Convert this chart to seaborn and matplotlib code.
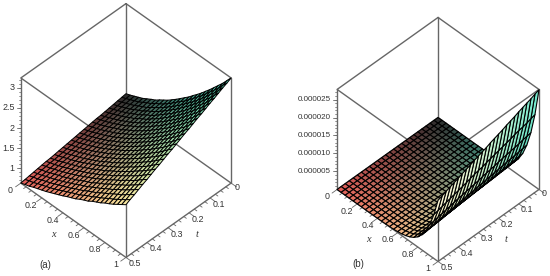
import numpy as np
import matplotlib
matplotlib.use('Agg')
import matplotlib.pyplot as plt
import seaborn as sns

x_vals = [0, .04, .08, .12, .16, .2, .24, .28, .32, .36, .4, .44, .48, .52, .56, .6, .64, .68, .72, .76, .8, .84, .88, .92, .96, 1]
t_vals = [0, .02, .04, .06, .08, .1, .12, .14, .16, .18, .2, .22, .24, .26, .28, .3, .32, .34, .36, .38, .4, .42, .44, .46, .48, .5]

# height of surface (a) above the box floor, one row per t
za_height = [
    [.48,.53,.59,.65,.71,.79,.87,.94,1.04,1.13,1.22,1.33,1.44,1.56,1.68,1.80,1.94,2.07,2.21,2.36,2.51,2.67,2.83,2.99,3.17,3.35],
    [.46,.51,.57,.63,.69,.77,.85,.92,1.02,1.10,1.19,1.30,1.41,1.53,1.65,1.76,1.90,2.03,2.17,2.31,2.46,2.62,2.77,2.93,3.11,3.28],
    [.44,.49,.55,.61,.67,.75,.82,.89,.99,1.08,1.17,1.27,1.38,1.49,1.61,1.73,1.86,1.99,2.12,2.26,2.41,2.56,2.72,2.87,3.04,3.22],
    [.42,.47,.53,.59,.65,.73,.80,.87,.97,1.05,1.14,1.24,1.35,1.46,1.58,1.69,1.82,1.95,2.08,2.22,2.36,2.51,2.66,2.81,2.98,3.15],
    [.40,.45,.51,.57,.63,.70,.78,.85,.94,1.03,1.11,1.21,1.32,1.43,1.54,1.65,1.78,1.90,2.03,2.17,2.31,2.46,2.60,2.75,2.92,3.08],
    [.38,.43,.49,.55,.61,.68,.76,.82,.92,1.00,1.08,1.19,1.29,1.39,1.51,1.62,1.74,1.86,1.99,2.12,2.26,2.40,2.55,2.69,2.85,3.02],
    [.36,.41,.47,.53,.59,.66,.73,.80,.89,.97,1.06,1.16,1.26,1.36,1.47,1.58,1.70,1.82,1.94,2.07,2.21,2.35,2.49,2.63,2.79,2.95],
    [.35,.40,.45,.51,.57,.64,.71,.78,.87,.95,1.03,1.13,1.22,1.33,1.44,1.54,1.66,1.78,1.90,2.03,2.16,2.29,2.43,2.57,2.73,2.88],
    [.33,.38,.43,.49,.55,.62,.69,.75,.84,.92,1.00,1.10,1.19,1.29,1.40,1.51,1.62,1.74,1.85,1.98,2.11,2.24,2.38,2.51,2.66,2.82],
    [.31,.36,.41,.47,.53,.60,.66,.73,.82,.90,.98,1.07,1.16,1.26,1.37,1.47,1.58,1.70,1.81,1.93,2.06,2.19,2.32,2.45,2.60,2.75],
    [.29,.34,.39,.45,.51,.57,.64,.71,.79,.87,.95,1.04,1.13,1.23,1.33,1.43,1.54,1.65,1.77,1.88,2.01,2.13,2.26,2.39,2.54,2.68],
    [.27,.32,.37,.43,.49,.55,.62,.68,.77,.84,.92,1.01,1.10,1.19,1.30,1.40,1.50,1.61,1.72,1.84,1.96,2.08,2.21,2.33,2.47,2.62],
    [.25,.30,.35,.41,.47,.53,.60,.66,.74,.82,.89,.98,1.07,1.16,1.26,1.36,1.46,1.57,1.68,1.79,1.91,2.03,2.15,2.27,2.41,2.55],
    [.23,.28,.33,.39,.44,.51,.57,.64,.72,.79,.87,.96,1.04,1.13,1.23,1.32,1.42,1.53,1.63,1.74,1.86,1.97,2.09,2.22,2.35,2.48],
    [.21,.26,.31,.37,.42,.49,.55,.62,.69,.77,.84,.93,1.01,1.10,1.19,1.28,1.38,1.49,1.59,1.69,1.81,1.92,2.03,2.16,2.29,2.41],
    [.19,.24,.29,.35,.40,.47,.53,.59,.67,.74,.81,.90,.98,1.06,1.16,1.25,1.34,1.45,1.54,1.65,1.76,1.87,1.98,2.10,2.22,2.35],
    [.17,.22,.27,.33,.38,.44,.50,.57,.64,.71,.78,.87,.95,1.03,1.12,1.21,1.30,1.40,1.50,1.60,1.71,1.81,1.92,2.04,2.16,2.28],
    [.15,.20,.25,.31,.36,.42,.48,.55,.62,.69,.76,.84,.92,1.00,1.09,1.17,1.26,1.36,1.46,1.55,1.66,1.76,1.86,1.98,2.10,2.21],
    [.13,.18,.23,.29,.34,.40,.46,.52,.59,.66,.73,.81,.89,.96,1.05,1.14,1.22,1.32,1.41,1.50,1.61,1.71,1.81,1.92,2.03,2.15],
    [.12,.17,.21,.27,.32,.38,.44,.50,.57,.64,.70,.78,.85,.93,1.02,1.10,1.18,1.28,1.37,1.46,1.56,1.65,1.75,1.86,1.97,2.08],
    [.10,.15,.19,.25,.30,.36,.41,.48,.54,.61,.68,.75,.82,.90,.98,1.06,1.14,1.24,1.32,1.41,1.51,1.60,1.69,1.80,1.91,2.01],
    [.08,.13,.17,.23,.28,.34,.39,.45,.52,.58,.65,.73,.79,.86,.95,1.03,1.10,1.20,1.28,1.36,1.46,1.54,1.64,1.74,1.84,1.95],
    [.06,.11,.15,.21,.26,.31,.37,.43,.49,.56,.62,.70,.76,.83,.91,.99,1.06,1.15,1.23,1.31,1.41,1.49,1.58,1.68,1.78,1.88],
    [.04,.09,.13,.19,.24,.29,.35,.41,.47,.53,.59,.67,.73,.80,.88,.95,1.02,1.11,1.19,1.27,1.36,1.44,1.52,1.62,1.72,1.81],
    [.02,.07,.11,.17,.22,.27,.32,.38,.44,.51,.57,.64,.70,.76,.84,.92,.98,1.07,1.14,1.22,1.31,1.38,1.47,1.56,1.65,1.75],
    [0,.05,.09,.15,.20,.25,.30,.36,.42,.48,.54,.61,.67,.73,.81,.88,.94,1.03,1.10,1.17,1.26,1.33,1.41,1.50,1.59,1.68],
]

# surface (b) in units of 1e-5, one row per t
zb_e5 = [
    [0,0,0,0,0,0,0,0,0,0,.002,.004,.008,.015,.027,.047,.078,.127,.200,.308,.465,.687,.996,1.42,2.00,2.77],
    [0,0,0,0,0,0,0,0,0,0,.002,.004,.008,.014,.026,.046,.077,.125,.197,.304,.458,.677,.982,1.40,1.97,2.73],
    [0,0,0,0,0,0,0,0,0,0,.002,.004,.008,.014,.026,.045,.075,.122,.193,.298,.450,.664,.964,1.38,1.93,2.68],
    [0,0,0,0,0,0,0,0,0,0,.002,.004,.007,.014,.026,.044,.074,.121,.191,.294,.443,.654,.949,1.35,1.90,2.64],
    [0,0,0,0,0,0,0,0,0,0,.002,.004,.007,.014,.025,.044,.073,.119,.188,.289,.436,.645,.935,1.33,1.88,2.60],
    [0,0,0,0,0,0,0,0,0,0,.002,.004,.007,.014,.025,.043,.072,.117,.185,.285,.430,.635,.921,1.31,1.85,2.56],
    [0,0,0,0,0,0,0,0,0,0,.002,.004,.007,.013,.024,.042,.071,.115,.181,.279,.421,.622,.903,1.29,1.81,2.51],
    [0,0,0,0,0,0,0,0,0,0,.002,.003,.007,.013,.024,.041,.069,.113,.178,.275,.414,.612,.888,1.27,1.78,2.47],
    [0,0,0,0,0,0,0,0,0,0,.002,.003,.007,.013,.024,.041,.068,.111,.175,.270,.408,.602,.874,1.25,1.75,2.43],
    [0,0,0,0,0,0,0,0,0,0,.002,.003,.007,.013,.023,.040,.067,.109,.172,.265,.399,.590,.856,1.22,1.72,2.38],
    [0,0,0,0,0,0,0,0,0,0,.002,.003,.007,.012,.023,.039,.066,.107,.169,.260,.393,.580,.841,1.20,1.69,2.34],
    [0,0,0,0,0,0,0,0,0,0,.002,.003,.006,.012,.022,.039,.065,.105,.166,.256,.386,.570,.827,1.18,1.66,2.30],
    [0,0,0,0,0,0,0,0,0,0,.002,.003,.006,.012,.022,.038,.064,.103,.163,.252,.379,.560,.813,1.16,1.63,2.26],
    [0,0,0,0,0,0,0,0,0,0,.002,.003,.006,.012,.021,.037,.062,.101,.160,.246,.371,.548,.795,1.13,1.59,2.21],
    [0,0,0,0,0,0,0,0,0,0,.002,.003,.006,.012,.021,.036,.061,.099,.157,.242,.364,.538,.780,1.11,1.57,2.17],
    [0,0,0,0,0,0,0,0,0,0,.001,.003,.006,.011,.021,.036,.060,.097,.154,.237,.357,.528,.766,1.09,1.54,2.13],
    [0,0,0,0,0,0,0,0,0,0,.001,.003,.006,.011,.020,.035,.059,.096,.151,.233,.351,.518,.752,1.07,1.51,2.09],
    [0,0,0,0,0,0,0,0,0,0,.001,.003,.006,.011,.020,.034,.057,.093,.147,.227,.342,.506,.734,1.05,1.47,2.04],
    [0,0,0,0,0,0,0,0,0,0,.001,.003,.006,.011,.019,.034,.056,.091,.144,.223,.336,.496,.719,1.03,1.44,2.00],
    [0,0,0,0,0,0,0,0,0,0,.001,.003,.005,.010,.019,.033,.055,.090,.142,.218,.329,.486,.705,1.01,1.41,1.96],
    [0,0,0,0,0,0,0,0,0,0,.001,.003,.005,.010,.019,.032,.054,.087,.138,.213,.320,.473,.687,.980,1.38,1.91],
    [0,0,0,0,0,0,0,0,0,0,.001,.003,.005,.010,.018,.031,.053,.085,.135,.208,.314,.464,.672,.960,1.35,1.87],
    [0,0,0,0,0,0,0,0,0,0,.001,.003,.005,.010,.018,.031,.051,.084,.132,.204,.307,.454,.658,.939,1.32,1.83],
    [0,0,0,0,0,0,0,0,0,0,.001,.003,.005,.009,.017,.030,.050,.082,.129,.199,.300,.444,.644,.919,1.29,1.79],
    [0,0,0,0,0,0,0,0,0,0,.001,.002,.005,.009,.017,.029,.049,.080,.126,.194,.292,.431,.626,.893,1.26,1.74],
    [0,0,0,0,0,0,0,0,0,0,.001,.002,.005,.009,.016,.029,.048,.078,.123,.189,.285,.421,.611,.872,1.23,1.70],
]

x_ticks = [0, .2, .4, .6, .8, 1]
x_labels = ['0', '0.2', '0.4', '0.6', '0.8', '1']
t_ticks = [0, .1, .2, .3, .4, .5]
t_labels = ['0', '0.1', '0.2', '0.3', '0.4', '0.5']
za_ticks = [1, 1.5, 2, 2.5, 3]
za_labels = ['1', '1.5', '2', '2.5', '3']
zb_ticks = [5e-6, 1e-5, 1.5e-5, 2e-5, 2.5e-5]
zb_labels = ['0.000005', '0.000010', '0.000015', '0.000020', '0.000025']

LINE = '#666666'
TEXT = '#333333'
W, H = 550, 276


def panel(px_left, px_bottom, px_size, elev, z, zlim, z_ticks, z_labels, z_minor, z_size, gloss, mesh_lw):
    ax = fig.add_axes([px_left / W, 1 - px_bottom / H, px_size / W, px_size / H],
                      projection='3d', proj_type='ortho', computed_zorder=False)
    ax.set_xlim(0, .5, view_margin=0)
    ax.set_ylim(0, 1, view_margin=0)
    ax.set_zlim(zlim[0], zlim[1], view_margin=0)
    ax.set_box_aspect((1, 1, 1))
    ax.view_init(elev=elev, azim=45)
    ax.set_xticks([])
    ax.set_yticks([])
    ax.set_zticks([])
    ax.set_axis_off()
    ax.patch.set_alpha(0)
    lo, hi = zlim

    # box, behind the surface
    for a, b in [(0, 0), (.5, 0), (.5, 1), (0, 1)]:
        ax.plot([a, a], [b, b], [lo, hi], color=LINE, lw=1, zorder=1, clip_on=False)
    for zz in (lo, hi):
        ax.plot([0, .5, .5, 0, 0], [0, 0, 1, 1, 0], [zz] * 5, color=LINE, lw=1, zorder=1, clip_on=False)

    # ticks
    for v in np.arange(0, 1.001, .05):
        d = .025 if round(v * 100) % 20 == 0 else .012
        ax.plot([.5, .5 + d], [v, v], [lo, lo], color=LINE, lw=.6, zorder=1, clip_on=False)
    for v in np.arange(0, .5001, .025):
        d = .05 if round(v * 1000) % 100 == 0 else .024
        ax.plot([v, v], [1, 1 + d], [lo, lo], color=LINE, lw=.6, zorder=1, clip_on=False)
    for v in z_minor:
        ax.plot([.5, .505], [0, -.01], [v, v], color=LINE, lw=.5, zorder=1, clip_on=False)
    for v in z_ticks:
        ax.plot([.5, .51], [0, -.02], [v, v], color=LINE, lw=.6, zorder=1, clip_on=False)

    # tick labels
    for v, s in zip(x_ticks, x_labels):
        ax.text(.55, v, lo, s, ha='center', va='center', fontsize=6.4, color=TEXT)
    for v, s in zip(t_ticks, t_labels):
        ax.text(v, 1.055 if v == 0 else 1.085, lo, s, ha='center', va='center', fontsize=6.4, color=TEXT)
    for v, s in zip(z_ticks, z_labels):
        ax.text(.515, -.03, v, s, ha='right', va='center', fontsize=z_size, color=TEXT)
    ax.text(.597, .5, lo, 'x', ha='center', va='center', fontsize=7.5, color=TEXT,
            family='Liberation Serif', style='italic')
    ax.text(.254, 1.184, lo, 't', ha='center', va='center', fontsize=7.5, color=TEXT,
            family='Liberation Serif', style='italic')

    # colour runs from the four corners of the (t, x) square, lighter towards x=1
    T, X = np.meshgrid(t_vals, x_vals, indexing='ij')
    s = (T / .5)[..., None]
    r = X[..., None]
    back, left = np.array(matplotlib.colors.to_rgb('#2c2c2c')), np.array(matplotlib.colors.to_rgb('#e8605a'))
    right, front = np.array(matplotlib.colors.to_rgb('#55ecc8')), np.array(matplotlib.colors.to_rgb('#fdea98'))
    colors = (1 - s) * (1 - r) * back + s * (1 - r) * left + (1 - s) * r * right + s * r * front
    colors = colors + (1 - colors) * gloss * r ** 6 * (.35 + .65 * s)
    ax.plot_surface(T, X, z, facecolors=colors, edgecolor='black', linewidth=mesh_lw,
                    rstride=1, cstride=1, shade=False, antialiased=True, zorder=5)
    return ax


sns.set_theme(style='white', rc={'font.family': ['Liberation Sans', 'DejaVu Sans']})
fig = plt.figure(figsize=(W / 100, H / 100), dpi=100)

# the floor of box (a) sits at 0.625, its lid at 3.25
za = .625 + np.array(za_height) * (3.25 - .625) / 3.35
zb = np.array(zb_e5) * 1e-5

panel(-2.4, 258.9, 250, 45, za, (.625, 3.25), za_ticks, za_labels, np.arange(.7, 3.25, .1), 6.4, .1, .7)
panel(314.8, 262.7, 240, 45.5, zb, (0, 2.78e-5), zb_ticks, zb_labels, np.arange(1e-6, 2.78e-5, 1e-6), 5.8, .75, .8)

fig.text(45 / W, 1 - 265 / H, '(a)', ha='center', va='center', fontsize=7, color=TEXT)
fig.text(358 / W, 1 - 264 / H, '(b)', ha='center', va='center', fontsize=7, color=TEXT)

fig.savefig('out.png', dpi=100)
